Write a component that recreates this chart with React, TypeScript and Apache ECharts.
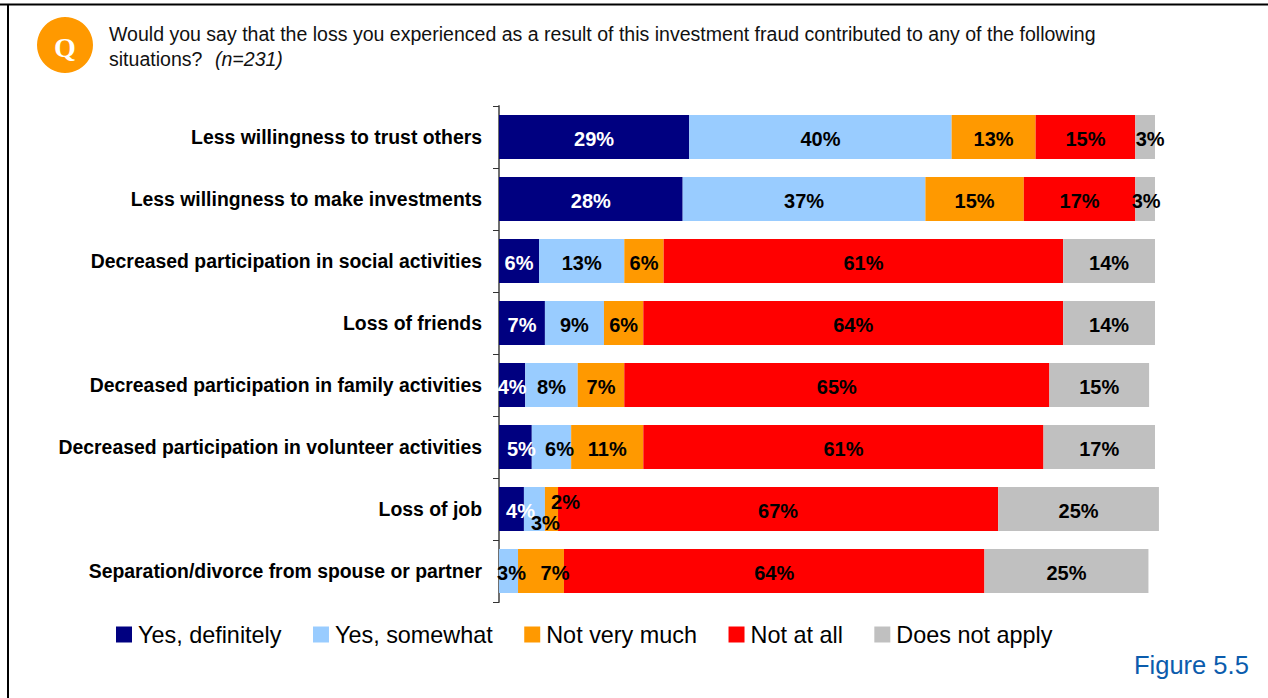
import React, { useEffect, useRef } from "react";
import * as echarts from "echarts";

const categories = [
  "Less willingness to trust others",
  "Less willingness to make investments",
  "Decreased participation in social activities",
  "Loss of friends",
  "Decreased participation in family activities",
  "Decreased participation in volunteer activities",
  "Loss of job",
  "Separation/divorce from spouse or partner",
];
const yesDefinitely = [29, 28, 6.1, 7, 4, 5, 3.8, null];
const yesSomewhat = [40, 37, 13, 9, 8, 6, 3.2, 2.9];
const notVeryMuch = [12.8, 15, 6, 6, 7.1, 11, 2, 7];
const notAtAll = [15.2, 17, 60.9, 64, 64.8, 61, 67.1, 64.1];
const doesNotApply = [3, 3, 14, 14, 15.2, 17, 24.5, 25];
const seriesNames = ["Yes, definitely", "Yes, somewhat", "Not very much", "Not at all", "Does not apply"];
const seriesColors = ["#000080", "#99ccff", "#ff9900", "#ff0000", "#c0c0c0"];
const seriesValues = [yesDefinitely, yesSomewhat, notVeryMuch, notAtAll, doesNotApply];

// label nudges [series, row, dx, dy] for labels that sit off-centre in the reference
const labelNudges: [number, number, number, number][] = [
  [4, 0, 5, 0],
  [4, 1, 1, 0],
  [0, 5, 6, 0],
  [1, 5, 8, 0],
  [0, 6, 9, 0],
  [1, 6, 11, 12],
  [2, 6, 14, -9],
  [1, 7, 3, 0],
  [2, 7, 14, 0],
];

const FONT = '"Liberation Sans", Arial, sans-serif';

export default function App() {
  const ref = useRef<HTMLDivElement>(null);
  useEffect(() => {
    document.body.style.margin = "0";
    const chart = echarts.init(ref.current!, undefined, { renderer: "svg" });
    const series = seriesNames.map((name, s) => ({
      name,
      type: "bar",
      stack: "total",
      barWidth: 44,
      itemStyle: { color: seriesColors[s] },
      label: {
        show: true,
        position: "inside",
        formatter: (p: any) => `${Math.round(p.value)}%`,
        fontFamily: FONT,
        fontSize: 20,
        fontWeight: "bold",
        color: s === 0 ? "#ffffff" : "#000000",
        offset: [0, 2],
      },
      data: seriesValues[s].map((value, row) => {
        const nudge = labelNudges.find((n) => n[0] === s && n[1] === row);
        return nudge
          ? { value, label: { offset: [nudge[2], 2 + nudge[3]] } }
          : { value };
      }),
    }));
    chart.setOption({
      animation: false,
      backgroundColor: "#ffffff",
      grid: { left: 499, top: 106, width: 662.56, height: 496, containLabel: false },
      xAxis: { type: "value", min: 0, max: 101, show: false },
      yAxis: {
        type: "category",
        inverse: true,
        data: categories,
        axisLine: { show: true, lineStyle: { color: "#6f6f6f", width: 2 } },
        axisTick: { show: true, length: 6, lineStyle: { color: "#333333", width: 1 } },
        axisLabel: {
          margin: 17,
          fontFamily: FONT,
          fontSize: 19.4,
          fontWeight: "bold",
          color: "#000000",
        },
      },
      legend: {
        left: 111,
        top: 618,
        icon: "rect",
        itemWidth: 16,
        itemHeight: 16,
        itemGap: 31.5,
        data: seriesNames,
        selectedMode: false,
        textStyle: { fontFamily: FONT, fontSize: 23.4, color: "#000000", padding: [0, 0, 0, 1] },
      },
      series,
      graphic: [
        { type: "rect", shape: { x: 0, y: 3.5, width: 1268, height: 2 }, style: { fill: "#000000" } },
        { type: "rect", shape: { x: 7, y: 4, width: 2, height: 694 }, style: { fill: "#000000" } },
        { type: "circle", shape: { cx: 65, cy: 45, r: 28 }, style: { fill: "#ff9900" } },
        {
          type: "text",
          x: 65,
          y: 47,
          style: {
            text: "Q",
            fill: "#ffffff",
            font: 'bold 28px "Liberation Serif", serif',
            textAlign: "center",
            textVerticalAlign: "middle",
          },
        },
        {
          type: "text",
          x: 109,
          y: 34,
          style: {
            text: "Would you say that the loss you experienced as a result of this investment fraud contributed to any of the following",
            fill: "#111111",
            font: `19.55px ${FONT}`,
            textVerticalAlign: "middle",
          },
        },
        {
          type: "text",
          x: 109,
          y: 59,
          style: {
            text: "situations?",
            fill: "#111111",
            font: `19.55px ${FONT}`,
            textVerticalAlign: "middle",
          },
        },
        {
          type: "text",
          x: 215,
          y: 59,
          style: {
            text: "(n=231)",
            fill: "#111111",
            font: `italic 19.55px ${FONT}`,
            textVerticalAlign: "middle",
          },
        },
        {
          type: "text",
          x: 1134,
          y: 665,
          style: {
            text: "Figure 5.5",
            fill: "#0b5cad",
            font: `25.5px ${FONT}`,
            textVerticalAlign: "middle",
          },
        },
      ],
    });
    return () => chart.dispose();
  }, []);
  return <div ref={ref} style={{ width: 1268, height: 698 }} />;
}
